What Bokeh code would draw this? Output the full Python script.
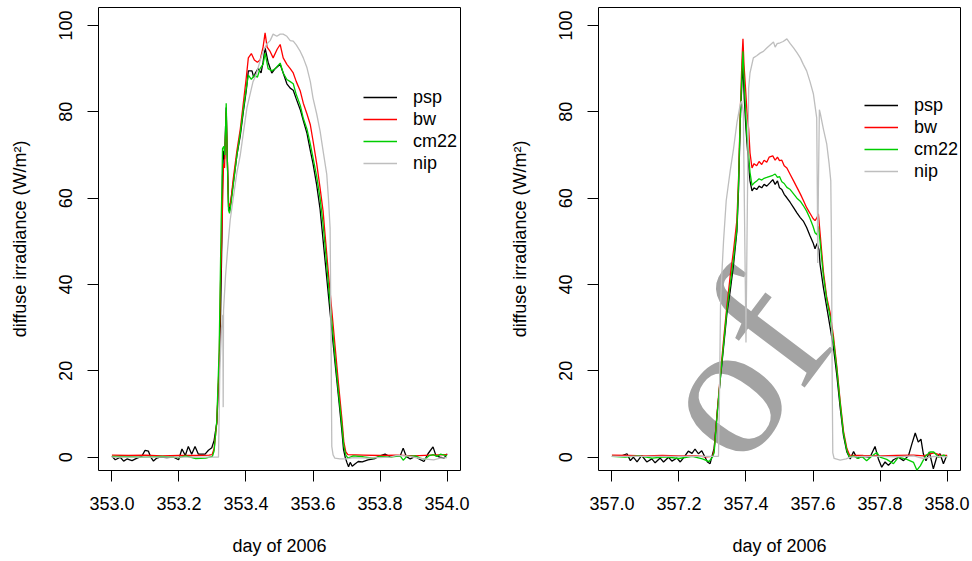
from bokeh.plotting import figure
from bokeh.models import FixedTicker, Legend, LegendItem, Label, Range1d
from bokeh.layouts import row
from bokeh.embed import file_html
from bokeh.resources import INLINE

# ---------------- data ----------------
left_xticks = [353.0, 353.2, 353.4, 353.6, 353.8, 354.0]
left_xlabels = ["353.0", "353.2", "353.4", "353.6", "353.8", "354.0"]
right_xticks = [357.0, 357.2, 357.4, 357.6, 357.8, 358.0]
right_xlabels = ["357.0", "357.2", "357.4", "357.6", "357.8", "358.0"]
yticks = [0, 20, 40, 60, 80, 100]
series_names = ["psp", "bw", "cm22", "nip"]

left_psp = [
    (353.000, 0.2), (353.010, -0.6), (353.025, 0.0), (353.035, -0.9), (353.045, -0.4), (353.060, -0.8),
    (353.075, -0.2), (353.089, 0.2), (353.099, 1.6), (353.109, 1.4), (353.116, 0.0), (353.124, -0.9),
    (353.134, -0.2), (353.144, 0.0), (353.164, -0.1), (353.184, 0.0), (353.199, -0.6), (353.209, 1.9),
    (353.219, 0.4), (353.228, 2.5), (353.238, 0.7), (353.248, 2.5), (353.258, 0.7), (353.278, 0.7),
    (353.288, 1.6), (353.298, 2.2), (353.305, 3.9), (353.313, 8.0), (353.320, 20.0), (353.324, 32.0),
    (353.328, 50.0), (353.330, 65.0), (353.333, 71.0), (353.336, 69.0), (353.341, 81.0), (353.344, 70.0),
    (353.348, 58.0), (353.351, 57.0), (353.356, 60.0), (353.362, 63.5), (353.373, 70.0), (353.383, 74.5),
    (353.392, 80.0), (353.401, 85.0), (353.407, 89.5), (353.418, 89.5), (353.423, 88.0), (353.428, 89.0),
    (353.436, 90.0), (353.445, 89.0), (353.451, 91.5), (353.457, 94.8), (353.466, 91.5), (353.477, 89.0),
    (353.487, 90.0), (353.502, 91.0), (353.511, 89.0), (353.522, 86.5), (353.532, 85.5), (353.541, 85.0),
    (353.550, 83.0), (353.562, 80.5), (353.571, 78.0), (353.582, 75.0), (353.592, 71.0), (353.600, 68.0),
    (353.611, 63.0), (353.621, 57.5), (353.626, 53.5), (353.636, 45.5), (353.646, 37.5), (353.656, 29.5),
    (353.666, 21.6), (353.676, 14.0), (353.686, 6.2), (353.691, 1.8), (353.696, 0.0), (353.701, -1.2),
    (353.706, -2.2), (353.711, -1.2), (353.717, -2.1), (353.726, -1.5), (353.735, -1.0), (353.747, -1.1),
    (353.764, -0.6), (353.785, -0.3), (353.800, 0.3), (353.815, 0.7), (353.830, 0.1), (353.845, 0.3),
    (353.860, 0.3), (353.869, 2.1), (353.878, 0.2), (353.890, -0.4), (353.905, 0.2), (353.919, -0.5),
    (353.931, -1.0), (353.943, 0.8), (353.958, 2.4), (353.967, 0.3), (353.979, 0.0), (353.991, -0.2),
    (354.000, 0.8),
]
left_bw = [
    (353.000, 0.5), (353.050, 0.4), (353.100, 0.5), (353.150, 0.3), (353.200, 0.4), (353.250, 0.4),
    (353.290, 0.5), (353.299, 0.6), (353.305, 2.0), (353.313, 8.0), (353.320, 22.0), (353.324, 40.0),
    (353.329, 55.0), (353.333, 68.0), (353.336, 67.0), (353.341, 80.0), (353.344, 70.0), (353.348, 59.0),
    (353.353, 58.0), (353.362, 64.5), (353.373, 71.0), (353.383, 76.0), (353.392, 82.0), (353.401, 88.0),
    (353.407, 92.5), (353.416, 93.5), (353.425, 92.0), (353.434, 91.5), (353.442, 92.0), (353.451, 95.0),
    (353.457, 98.3), (353.463, 95.0), (353.472, 94.0), (353.481, 92.5), (353.493, 94.5), (353.502, 95.6),
    (353.511, 92.5), (353.522, 91.0), (353.532, 90.0), (353.541, 89.0), (353.550, 87.0), (353.562, 84.8),
    (353.571, 82.0), (353.582, 79.5), (353.592, 77.0), (353.600, 73.3), (353.611, 68.0), (353.621, 62.4),
    (353.630, 57.0), (353.636, 51.5), (353.646, 42.5), (353.656, 34.0), (353.666, 25.5), (353.676, 17.0),
    (353.686, 9.0), (353.692, 3.5), (353.698, 1.2), (353.704, 0.6), (353.750, 0.5), (353.800, 0.4),
    (353.850, 0.5), (353.900, 0.3), (353.950, 0.5), (354.000, 0.6),
]
left_cm22 = [
    (353.000, 0.2), (353.050, 0.1), (353.100, 0.0), (353.150, 0.2), (353.200, -0.1), (353.220, 0.3),
    (353.250, -0.3), (353.280, -0.2), (353.300, 0.2), (353.305, 1.5), (353.313, 8.5), (353.320, 25.0),
    (353.326, 54.7), (353.328, 62.0), (353.330, 71.5), (353.334, 72.0), (353.337, 70.0), (353.341, 82.0),
    (353.344, 70.0), (353.348, 57.2), (353.351, 56.5), (353.356, 59.0), (353.362, 63.0), (353.373, 70.0),
    (353.383, 75.0), (353.392, 80.5), (353.401, 85.5), (353.407, 88.5), (353.416, 87.5), (353.425, 88.5),
    (353.434, 88.0), (353.442, 90.0), (353.451, 91.0), (353.457, 93.6), (353.466, 90.0), (353.477, 89.5),
    (353.487, 90.0), (353.502, 91.3), (353.511, 89.0), (353.522, 87.5), (353.532, 87.0), (353.541, 86.5),
    (353.550, 84.0), (353.562, 81.5), (353.571, 78.5), (353.582, 76.0), (353.592, 72.5), (353.600, 69.4),
    (353.611, 65.0), (353.621, 60.0), (353.630, 54.0), (353.636, 49.0), (353.646, 40.0), (353.656, 31.5),
    (353.666, 23.0), (353.676, 15.0), (353.686, 7.5), (353.692, 2.5), (353.698, 0.5), (353.704, -0.2),
    (353.720, 0.3), (353.750, 0.1), (353.780, -0.2), (353.800, 0.2), (353.830, 0.0), (353.860, 0.3),
    (353.869, -0.7), (353.880, 0.2), (353.905, 0.3), (353.920, -0.2), (353.934, -0.5), (353.945, 0.3),
    (353.958, 0.6), (353.970, 0.2), (353.980, 0.7), (354.000, 0.3),
]
left_nip = [
    (353.000, 0.0), (353.100, 0.0), (353.200, 0.0), (353.300, 0.0), (353.318, 0.0), (353.322, 20.0),
    (353.327, 30.0), (353.331, 33.0), (353.332, 11.6), (353.333, 34.0), (353.339, 42.0), (353.345, 48.0),
    (353.350, 52.4), (353.353, 55.0), (353.362, 60.0), (353.373, 66.0), (353.383, 70.0), (353.392, 75.0),
    (353.403, 81.0), (353.412, 84.0), (353.421, 87.0), (353.430, 88.5), (353.442, 91.8), (353.451, 94.0),
    (353.462, 95.7), (353.472, 96.5), (353.481, 98.0), (353.492, 97.5), (353.502, 98.0), (353.511, 98.0),
    (353.522, 97.5), (353.532, 96.5), (353.541, 96.4), (353.550, 95.5), (353.562, 94.0), (353.571, 92.5),
    (353.582, 90.2), (353.592, 87.0), (353.600, 83.2), (353.611, 79.5), (353.621, 75.6), (353.631, 70.5),
    (353.641, 65.5), (353.646, 60.0), (353.651, 53.0), (353.654, 25.0), (353.656, 2.5), (353.660, 0.5),
    (353.665, -0.2), (353.680, -0.4), (353.700, -0.4), (353.720, -0.1), (353.760, -0.2), (353.830, 0.0),
    (353.850, 0.4), (353.880, 0.3), (353.920, -0.3), (353.960, -0.6), (353.980, -0.2), (354.000, -0.1),
]

right_psp = [
    (357.000, 0.2), (357.025, 0.2), (357.045, 0.8), (357.055, -0.8), (357.064, 0.0), (357.075, -1.1),
    (357.089, 0.4), (357.104, -1.1), (357.119, -0.4), (357.129, -1.3), (357.144, -0.2), (357.154, -1.1),
    (357.169, 0.0), (357.179, -0.9), (357.194, -0.2), (357.204, -1.1), (357.219, 0.4), (357.228, 1.4),
    (357.239, 0.9), (357.248, 1.9), (357.258, 0.8), (357.268, 1.5), (357.278, 0.0), (357.285, -1.1),
    (357.293, -1.5), (357.298, 0.0), (357.305, 2.1), (357.313, 9.2), (357.323, 17.7), (357.333, 25.4),
    (357.343, 33.2), (357.353, 38.5), (357.363, 44.7), (357.373, 52.4), (357.378, 62.4), (357.383, 77.8),
    (357.388, 87.1), (357.391, 91.0), (357.395, 83.0), (357.400, 76.0), (357.404, 71.8), (357.408, 67.5),
    (357.412, 64.0), (357.418, 61.7), (357.424, 62.4), (357.432, 62.0), (357.439, 62.8), (357.447, 62.4),
    (357.454, 63.2), (357.462, 62.8), (357.472, 63.6), (357.480, 64.3), (357.487, 63.2), (357.494, 64.0),
    (357.500, 62.4), (357.507, 62.0), (357.514, 60.9), (357.522, 60.1), (357.532, 59.0), (357.542, 57.8),
    (357.552, 56.6), (357.562, 55.5), (357.571, 54.7), (357.581, 53.2), (357.591, 51.3), (357.600, 49.7),
    (357.606, 48.3), (357.612, 49.5), (357.618, 48.0), (357.621, 44.7), (357.631, 39.3), (357.641, 34.7),
    (357.651, 30.1), (357.661, 25.4), (357.671, 19.0), (357.681, 11.5), (357.691, 5.0), (357.701, 1.2),
    (357.711, -0.4), (357.721, 1.3), (357.731, -0.2), (357.750, 0.2), (357.770, 0.0), (357.785, 2.5),
    (357.795, -0.4), (357.805, -2.3), (357.815, -1.1), (357.825, -1.9), (357.840, -0.6), (357.855, 0.0),
    (357.870, -0.8), (357.885, 0.4), (357.895, 3.1), (357.905, 5.6), (357.914, 3.5), (357.922, 4.2),
    (357.929, 0.8), (357.937, -0.8), (357.947, 1.2), (357.959, -2.7), (357.969, 0.0), (357.979, 0.8),
    (357.989, -1.5), (357.999, 0.4),
]
right_bw = [
    (357.000, 0.5), (357.050, 0.4), (357.100, 0.3), (357.150, 0.4), (357.200, 0.3), (357.250, 0.3),
    (357.280, 0.1), (357.300, 0.2), (357.305, 1.5), (357.313, 9.5), (357.323, 18.5), (357.333, 27.0),
    (357.343, 35.0), (357.353, 42.0), (357.363, 48.0), (357.373, 55.0), (357.378, 65.0), (357.383, 80.0),
    (357.388, 92.0), (357.391, 96.9), (357.394, 91.0), (357.399, 85.0), (357.403, 80.0), (357.408, 76.0),
    (357.412, 70.5), (357.418, 67.0), (357.424, 68.0), (357.432, 67.5), (357.439, 68.5), (357.447, 67.8),
    (357.454, 68.8), (357.462, 68.3), (357.469, 69.5), (357.480, 69.8), (357.487, 68.8), (357.494, 69.5),
    (357.500, 68.7), (357.507, 68.8), (357.514, 67.5), (357.522, 67.0), (357.532, 65.5), (357.542, 64.0),
    (357.552, 62.5), (357.562, 61.0), (357.571, 59.5), (357.581, 57.8), (357.591, 56.5), (357.600, 55.3),
    (357.606, 54.8), (357.612, 55.5), (357.616, 56.4), (357.621, 52.0), (357.631, 43.0), (357.641, 37.0),
    (357.651, 33.5), (357.661, 28.0), (357.671, 21.0), (357.681, 13.0), (357.691, 6.0), (357.701, 2.0),
    (357.709, 0.5), (357.750, 0.4), (357.800, 0.3), (357.850, 0.4), (357.900, 0.5), (357.930, 0.3),
    (357.960, 1.0), (357.980, 0.5), (358.000, 0.4),
]
right_cm22 = [
    (357.000, 0.2), (357.040, 0.0), (357.080, 0.3), (357.120, -0.2), (357.160, 0.1), (357.200, -0.3),
    (357.240, 0.2), (357.270, -0.4), (357.290, -1.0), (357.300, 0.0), (357.305, 1.0), (357.313, 9.0),
    (357.323, 18.0), (357.333, 26.0), (357.343, 34.0), (357.353, 40.0), (357.363, 46.0), (357.373, 53.0),
    (357.378, 64.0), (357.383, 79.0), (357.388, 89.0), (357.391, 94.0), (357.394, 88.0), (357.399, 80.0),
    (357.403, 74.0), (357.408, 70.0), (357.412, 66.0), (357.418, 63.0), (357.424, 63.5), (357.432, 64.0),
    (357.439, 64.5), (357.447, 64.2), (357.454, 64.6), (357.462, 64.8), (357.469, 65.0), (357.480, 65.3),
    (357.487, 65.6), (357.494, 64.8), (357.500, 65.0), (357.507, 63.8), (357.514, 63.4), (357.522, 62.5),
    (357.532, 62.0), (357.542, 61.0), (357.552, 60.0), (357.562, 59.3), (357.571, 58.3), (357.581, 57.0),
    (357.591, 55.3), (357.600, 53.5), (357.606, 52.0), (357.612, 51.5), (357.616, 53.5), (357.621, 50.0),
    (357.631, 42.0), (357.641, 36.5), (357.651, 32.5), (357.661, 27.0), (357.671, 20.5), (357.681, 12.5),
    (357.691, 5.5), (357.701, 1.5), (357.709, 0.0), (357.720, 0.3), (357.735, -0.3), (357.745, 0.2),
    (357.760, -0.8), (357.775, 0.2), (357.790, 1.1), (357.800, 0.0), (357.820, -0.5), (357.840, -1.5),
    (357.855, 0.0), (357.880, -0.5), (357.900, -1.2), (357.910, -3.0), (357.920, -2.0), (357.935, 0.2),
    (357.950, 1.2), (357.960, 1.2), (357.975, 0.0), (357.990, 0.5), (358.000, 0.0),
]
right_nip = [
    (357.000, 0.2), (357.100, 0.2), (357.200, 0.2), (357.300, 0.2), (357.318, 0.2), (357.321, 15.0),
    (357.324, 35.0), (357.327, 41.0), (357.333, 50.0), (357.341, 59.4), (357.353, 66.4), (357.363, 71.5),
    (357.373, 77.5), (357.383, 81.8), (357.387, 82.5), (357.392, 80.0), (357.395, 60.0), (357.398, 40.0),
    (357.400, 26.6), (357.403, 50.0), (357.408, 85.5), (357.412, 89.0), (357.422, 92.5), (357.432, 93.0),
    (357.442, 93.6), (357.452, 94.0), (357.462, 94.8), (357.472, 95.5), (357.482, 96.2), (357.487, 95.0),
    (357.493, 95.8), (357.502, 96.0), (357.511, 96.3), (357.522, 96.9), (357.532, 95.8), (357.542, 94.8),
    (357.552, 93.7), (357.562, 92.5), (357.571, 91.0), (357.581, 89.5), (357.591, 87.0), (357.601, 84.2),
    (357.611, 78.6), (357.613, 60.0), (357.614, 45.0), (357.616, 62.0), (357.619, 80.5), (357.622, 79.5),
    (357.631, 76.0), (357.641, 72.5), (357.648, 68.0), (357.653, 64.0), (357.655, 50.0), (357.657, 20.0),
    (357.659, 1.0), (357.663, -0.3), (357.681, -0.7), (357.699, -0.4), (357.711, 0.0), (357.750, 0.2),
    (357.800, 0.2), (357.850, 0.1), (357.900, 0.3), (357.930, -0.3), (357.960, 0.2), (358.000, 0.1),
]

# ---------------- styling ----------------
FONT = "Liberation Sans"
COLORS = ["#000000", "#FF0000", "#00CD00", "#BEBEBE"]
Y_RANGE = (-3.08, 104.17)


def make_panel(series, xticks, xlabels, x_range, border_left, border_right, legend_loc):
    p = figure(width=486, height=561, output_backend="svg", toolbar_location=None,
               x_range=Range1d(*x_range), y_range=Range1d(*Y_RANGE),
               min_border_left=border_left, min_border_right=border_right,
               min_border_top=7, min_border_bottom=91,
               x_axis_label="day of 2006", y_axis_label="diffuse irradiance (W/m²)")
    p.grid.visible = False
    p.outline_line_color = "black"
    p.outline_line_width = 1
    p.background_fill_color = "white"
    p.border_fill_color = "white"

    renderers = []
    for data, color in zip(series, COLORS):
        xs = [d[0] for d in data]
        ys = [d[1] for d in data]
        renderers.append(p.line(xs, ys, line_color=color, line_width=1.3))

    for ax in (p.xaxis[0], p.yaxis[0]):
        ax.axis_line_color = None
        ax.major_tick_line_color = "black"
        ax.major_tick_line_width = 1
        ax.major_tick_in = 0
        ax.major_tick_out = 11
        ax.minor_tick_line_color = None
        ax.major_label_text_font = FONT
        ax.major_label_text_font_size = "18px"
        ax.major_label_text_color = "black"
        ax.major_label_standoff = 15
        ax.axis_label_text_font = FONT
        ax.axis_label_text_font_size = "18px"
        ax.axis_label_text_font_style = "normal"
        ax.axis_label_text_color = "black"

    p.xaxis.ticker = FixedTicker(ticks=xticks)
    p.xaxis.major_label_overrides = {t: s for t, s in zip(xticks, xlabels)}
    p.xaxis.axis_label_standoff = 23
    p.yaxis.ticker = FixedTicker(ticks=yticks)
    p.yaxis.major_label_overrides = {t: str(t) for t in yticks}
    p.yaxis.major_label_orientation = "vertical"
    p.yaxis.axis_label_standoff = 27

    legend = Legend(
        items=[LegendItem(label=n, renderers=[r]) for n, r in zip(series_names, renderers)],
        location=legend_loc, border_line_color=None, background_fill_alpha=0,
        label_text_font=FONT, label_text_font_size="18px", label_text_color="black",
        glyph_width=34, glyph_height=22, label_height=22, label_standoff=16,
        spacing=0, padding=0, margin=0)
    p.add_layout(legend)
    return p


p1 = make_panel([left_psp, left_bw, left_cm22, left_nip], left_xticks, left_xlabels,
                (352.96, 354.04), 98, 26, (265, 296))
p2 = make_panel([right_psp, right_bw, right_cm22, right_nip], right_xticks, right_xlabels,
                (356.96, 358.04), 112, 12, (266, 288))

# letters of the source page's "Proof" watermark that lie inside the right panel
WM_FONT = "Liberation Serif"
for ch, wx, wy in [("o", 357.3185, 14.76), ("f", 357.4629, 29.63)]:
    p2.add_layout(Label(x=wx, y=wy, text=ch, angle=53, angle_units="deg",
                        text_font=WM_FONT, text_font_size="193px", text_align="center",
                        text_baseline="alphabetic", text_color="#a3a3a3",
                        level="underlay"))

layout = row(p1, p2)
open("out.html", "w").write(file_html(layout, INLINE))
